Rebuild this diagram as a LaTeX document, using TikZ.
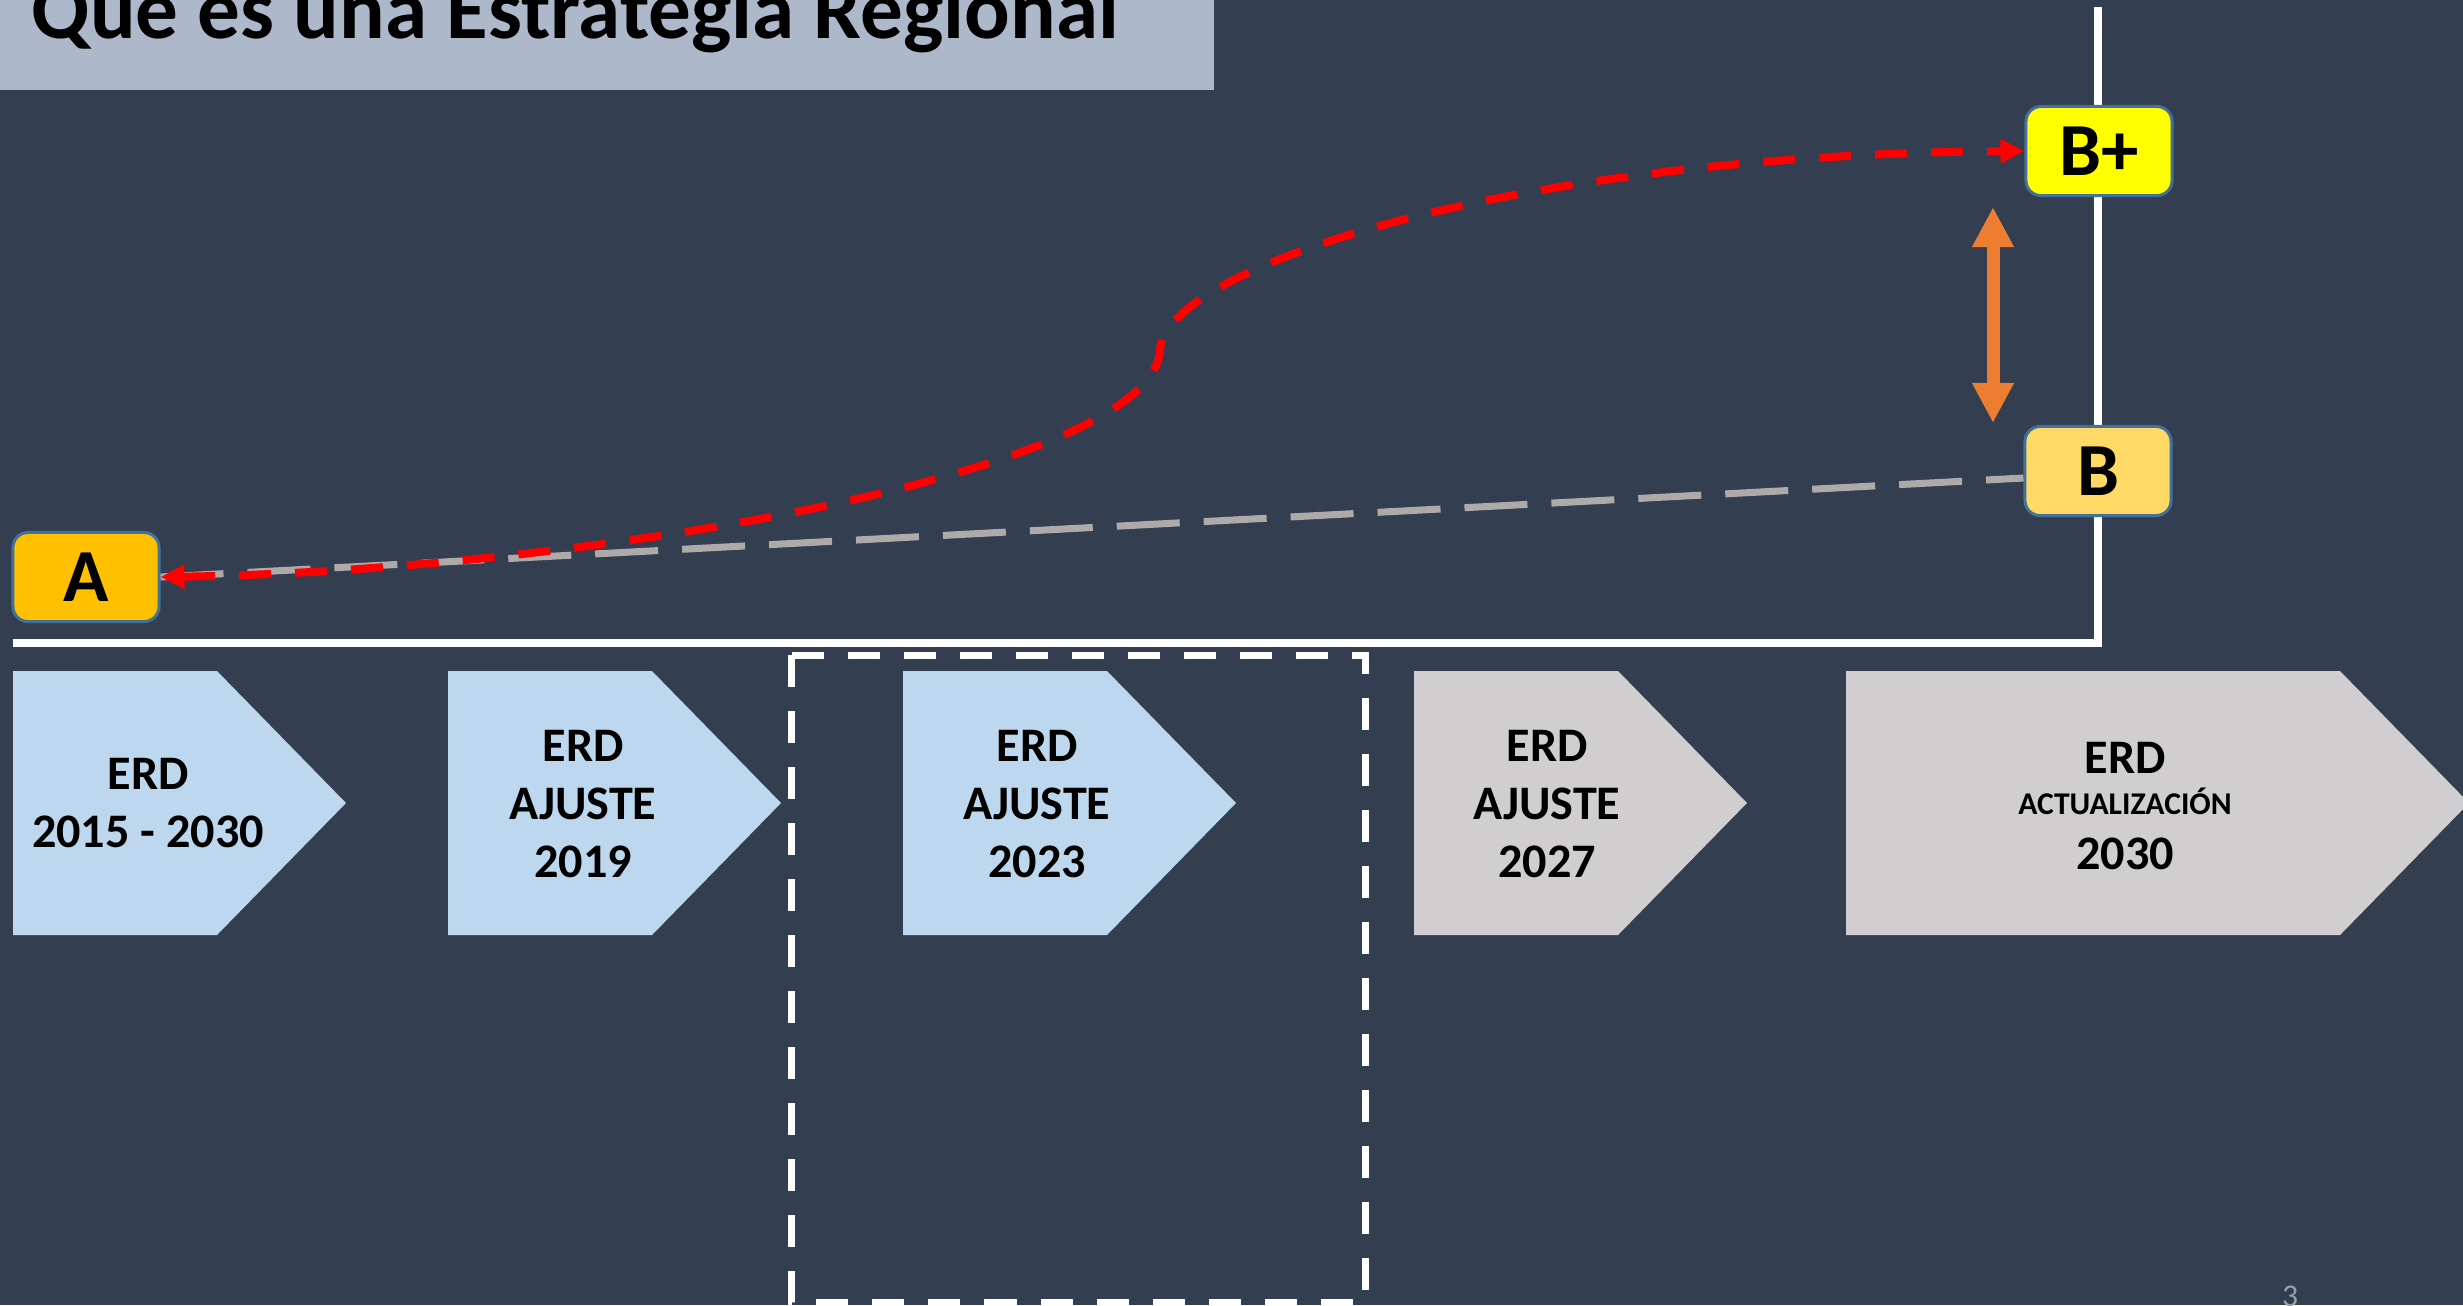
\documentclass[tikz,border=0pt]{standalone}
\usepackage{fontspec}
\setmainfont{Carlito}
\usetikzlibrary{arrows.meta}

\definecolor{slide}{HTML}{333F50}
\definecolor{titlebar}{HTML}{ADB9CA}
\definecolor{erdblue}{HTML}{BDD7EE}
\definecolor{erdgray}{HTML}{D0CECE}
\definecolor{aorange}{HTML}{FFC000}
\definecolor{bgold}{HTML}{FFD966}
\definecolor{bplus}{HTML}{FFFF00}
\definecolor{boxedge}{HTML}{41719C}
\definecolor{gaporange}{HTML}{ED7D31}
\definecolor{basegray}{HTML}{AEAAAA}
\definecolor{pagenum}{HTML}{9AA0AA}

\begin{document}
\begin{tikzpicture}[x=0.01cm,y=-0.01cm,
    letter/.style={draw=boxedge,line width=0.85pt,rounded corners=1.5mm,inner sep=0pt,
      minimum width=1.46cm,minimum height=0.89cm,font=\fontsize{21.3}{24}\selectfont\bfseries},
    erd/.style={align=center,inner sep=0pt,font=\fontsize{13.7}{16.5}\selectfont\bfseries},
    >={Triangle[length=2.4mm,width=2.3mm]}]
  \useasboundingbox (0,0) rectangle (2463,1305);
  \fill[slide] (0,0) rectangle (2463,1305);

  % title
  \fill[titlebar] (0,0) rectangle (1214,90);
  \node[anchor=base west,inner sep=0pt,font=\fontsize{24.2}{28}\selectfont\bfseries] (title) at (31,38) {Que es una Estrategia Regional};

  % axes
  \draw[white,line width=0.8mm] (2098,7) -- (2098,643) -- (13,643);

  % chevrons
  \foreach \l/\col in {13/erdblue,448/erdblue,903/erdblue,1414/erdgray}
    \fill[\col] (\l,671) -- ++(204,0) -- ++(129,132) -- ++(-129,132) -- ++(-204,0) -- cycle;
  \fill[erdgray] (1846,671) -- (2340,671) -- (2469,803) -- (2340,935) -- (1846,935) -- cycle;

  \node[erd] (erd15) at (148,803) {ERD\\2015 - 2030};
  \node[erd] (erd19) at (583,804) {ERD\\AJUSTE\\2019};
  \node[erd] (erd23) at (1037,804) {ERD\\AJUSTE\\2023};
  \node[erd] (erd27) at (1547,804) {ERD\\AJUSTE\\2027};
  \node[erd] (erd30) at (2125,806) {ERD\\[-4.8pt]{\fontsize{9}{10}\selectfont ACTUALIZACIÓN}\\[-1.1pt]2030};

  % current adjustment frame
  \draw[white,line width=0.7mm,dash pattern=on 3.2mm off 2.4mm] (791,655) rectangle (1365,1302);

  % start and goals
  \node[letter,fill=aorange] (A) at (86,577) {A};
  \node[letter,fill=bplus] (Bp) at (2099,151) {B+};
  \node[letter,fill=bgold] (B) at (2098,471) {B};

  \draw[basegray,line width=0.7mm,dash pattern=on 6.3mm off 2.4mm] (A.east) -- ([yshift=-0.7mm]B.west);
  \coordinate (bend) at (1160,350);
  \draw[red,line width=0.8mm,dash pattern=on 3.2mm off 2.4mm,<->] (A.east)
    .. controls (600,570) and (1154,470) .. (bend)
    .. controls (1164,270) and (1500,155) .. (Bp.west);

  \coordinate (gaptop) at (1993,207);
  \coordinate (gapbot) at (1993,423);
  \draw[gaporange,line width=1.3mm,{Triangle[length=4mm,width=3.9mm]}-{Triangle[length=4mm,width=3.9mm]}] (gaptop) -- (gapbot);

  \node[anchor=north,inner sep=0pt,text=pagenum,font=\fontsize{9}{10}\selectfont] (page) at (2290,1285) {3};
\end{tikzpicture}
\end{document}
